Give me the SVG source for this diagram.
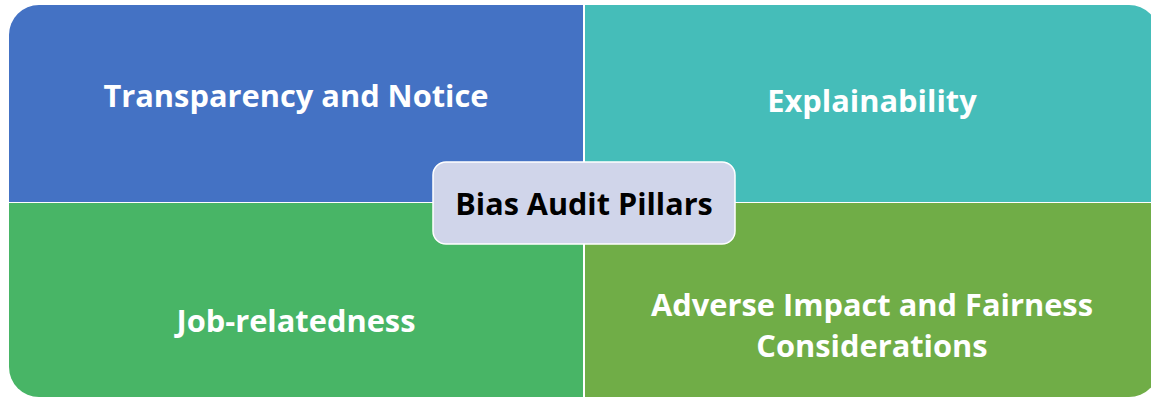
<svg xmlns="http://www.w3.org/2000/svg" width="1151" height="398" viewBox="0 0 1151 398">
  <style>
    .label { font-family: "Open Sans", "Liberation Sans", sans-serif; font-weight: 700; fill: #ffffff; font-size: 30.8px; text-anchor: middle; }
    .center-label { font-family: "Open Sans", "Liberation Sans", sans-serif; font-weight: 700; fill: #000000; font-size: 30.6px; text-anchor: middle; }
  </style>
  <rect width="1151" height="398" fill="#ffffff"/>
  <g id="transparency">
    <path d="M9,35 A30,30 0 0 1 39,5 H583 V202 H9 Z" fill="#4472C4"/>
    <text class="label" x="296" y="107">Transparency and Notice</text>
  </g>
  <g id="explainability">
    <path d="M585,5 H1129 A30,30 0 0 1 1159,35 V202 H585 Z" fill="#45BDB9"/>
    <text class="label" x="872" y="112">Explainability</text>
  </g>
  <g id="job-relatedness">
    <path d="M9,203 H583 V397 H39 A30,30 0 0 1 9,367 Z" fill="#48B566"/>
    <text class="label" x="296" y="332">Job-relatedness</text>
  </g>
  <g id="adverse-impact">
    <path d="M585,203 H1159 V367 A30,30 0 0 1 1129,397 H585 Z" fill="#70AD47"/>
    <text class="label" x="872" y="316">Adverse Impact and Fairness</text>
    <text class="label" x="872" y="357">Considerations</text>
  </g>
  <g id="connectors"></g>
  <g id="bias-audit-pillars">
    <rect x="433" y="162" width="302" height="82" rx="13" fill="#D0D5EA" stroke="#ffffff" stroke-width="1.5"/>
    <text class="center-label" x="584" y="215">Bias Audit Pillars</text>
  </g>
</svg>
